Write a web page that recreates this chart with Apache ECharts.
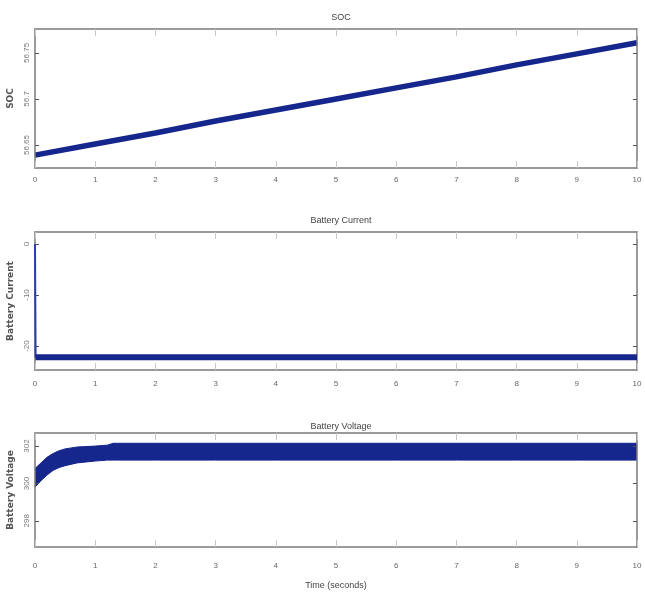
<!DOCTYPE html>
<html><head><meta charset="utf-8">
<script src="https://cdn.jsdelivr.net/npm/echarts@6/dist/echarts.min.js"></script>
<style>html,body{margin:0;padding:0;background:#fff}#c{width:645px;height:601px}</style>
</head><body><div id="c"></div>
<script>
// ---- data ----
const xTicks = [0,1,2,3,4,5,6,7,8,9,10];
const socTime = [0,1,2,3,4,5,6,7,8,9,10];
const socValues = [56.639,56.651,56.663,56.676,56.688,56.700,56.712,56.724,56.737,56.749,56.761];
const socTicks = [56.65,56.7,56.75];
const currentTime = [0,0.01,10];
const currentValues = [0,-22.2,-22.2];
const currentTicks = [-20,-10,0];
const voltTime  = [0,0.1,0.2,0.3,0.4,0.5,0.7,1.0,1.2,1.3,2,3,4,5,6,7,8,9,10];
const voltUpper = [300.8,301.1,301.4,301.6,301.75,301.85,301.95,302.0,302.05,302.15,302.15,302.15,302.15,302.15,302.15,302.15,302.15,302.15,302.15];
const voltLower = [299.8,300.15,300.45,300.7,300.85,300.95,301.1,301.2,301.25,301.25,301.25,301.25,301.25,301.25,301.25,301.25,301.25,301.25,301.25];
const voltTicks = [298,300,302];
const titles = ['SOC','Battery Current','Battery Voltage'];
const yNames = ['SOC','Battery Current','Battery Voltage'];
const xName = 'Time (seconds)';

const NAVY = '#15268c';
const FRAME = '#7a7a7a';
const FONT = '"Liberation Sans Narrow","Liberation Sans",sans-serif';
const grids = [
  {left:35, right:8, top:29, height:139, outerBoundsMode:'none', containLabel:false},
  {left:35, right:8, top:232, height:138, outerBoundsMode:'none', containLabel:false},
  {left:35, right:8, top:433, height:114, outerBoundsMode:'none', containLabel:false}
];
const yRanges = [[56.625,56.776],[-24.7,2.35],[296.6,302.7]];
const yTickSets = [socTicks,currentTicks,voltTicks];
const xMargins = [8,10,15];

const xAxis = [], yAxis = [];
grids.forEach((g,i)=>{
  xAxis.push({type:'value',gridIndex:i,min:0,max:10,interval:1,position:'bottom',z:10,
    axisLine:{show:true,onZero:false,lineStyle:{color:FRAME,width:1.5}},
    axisTick:{show:true,inside:true,length:7,lineStyle:{color:'#c8c8c8'}},
    axisLabel:{color:'#666',fontSize:8,fontFamily:FONT,margin:xMargins[i]},
    splitLine:{show:false},
    name: i===2 ? xName : '', nameLocation:'middle', nameGap:34,
    nameTextStyle:{color:'#444',fontSize:9,fontFamily:FONT}});
  xAxis.push({type:'value',gridIndex:i,min:0,max:10,interval:1,position:'top',z:10,
    axisLine:{show:true,onZero:false,lineStyle:{color:FRAME,width:1.5}},
    axisTick:{show:true,inside:true,length:7,lineStyle:{color:'#c8c8c8'}},
    axisLabel:{show:false},splitLine:{show:false}});
  yAxis.push({type:'value',gridIndex:i,min:yRanges[i][0],max:yRanges[i][1],position:'left',z:10,
    axisLine:{show:true,onZero:false,lineStyle:{color:FRAME,width:1.5}},
    axisTick:{show:true,inside:true,length:4,customValues:yTickSets[i],lineStyle:{color:'#555'}},
    axisLabel:{color:'#777',fontSize:8,fontFamily:FONT,margin:4,customValues:yTickSets[i],rotate:90},
    splitLine:{show:false},
    name:yNames[i],nameLocation:'middle',nameGap:15,
    nameTextStyle:{color:'#555',fontSize:9,fontWeight:'bold',fontFamily:'"DejaVu Sans",sans-serif'}});
  yAxis.push({type:'value',gridIndex:i,min:yRanges[i][0],max:yRanges[i][1],position:'right',z:10,
    axisLine:{show:true,onZero:false,lineStyle:{color:FRAME,width:1.5}},
    axisTick:{show:true,inside:true,length:4,customValues:yTickSets[i],lineStyle:{color:'#555'}},
    axisLabel:{show:false},splitLine:{show:false}});
});

const zip = (a,b)=>a.map((v,k)=>[v,b[k]]);
const series = [
  {type:'line',xAxisIndex:0,yAxisIndex:0,data:zip(socTime,socValues),symbol:'none',
   lineStyle:{color:NAVY,width:5.5},animation:false},
  {type:'line',xAxisIndex:2,yAxisIndex:2,data:zip(currentTime,currentValues),symbol:'none',z:12,
   lineStyle:{color:'#2a3cb0',width:2},animation:false},
  {type:'line',xAxisIndex:2,yAxisIndex:2,data:zip(currentTime.slice(1),currentValues.slice(1)),symbol:'none',z:12,
   lineStyle:{color:NAVY,width:6},animation:false},
  {type:'line',xAxisIndex:4,yAxisIndex:4,data:zip(voltTime,voltUpper),symbol:'none',z:2,
   lineStyle:{color:NAVY,width:1},areaStyle:{color:NAVY,opacity:1,origin:'start'},animation:false},
  {type:'line',xAxisIndex:4,yAxisIndex:4,data:zip(voltTime,voltLower),symbol:'none',z:3,
   lineStyle:{color:NAVY,width:1},areaStyle:{color:'#ffffff',opacity:1,origin:'start'},animation:false}
];

const title = titles.map((t,i)=>({text:t,left:336,textAlign:'center',top:[8,211,417][i],
  textStyle:{fontSize:9,fontWeight:'normal',color:'#444',fontFamily:FONT}}));

const chart = echarts.init(document.getElementById('c'),null,{renderer:'canvas'});
chart.setOption({animation:false,backgroundColor:'#fff',title,grid:grids,xAxis,yAxis,series});
</script></body></html>
